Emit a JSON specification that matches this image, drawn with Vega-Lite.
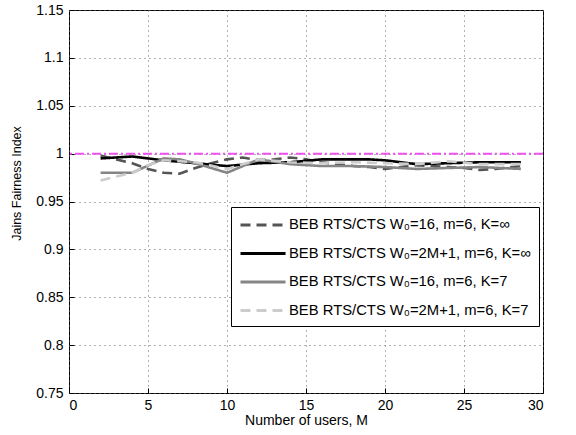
{
  "$schema": "https://vega.github.io/schema/vega-lite/v6.json",
  "width": 474,
  "height": 383,
  "autosize": {"type": "none"},
  "padding": {"left": 69, "top": 10, "right": 33, "bottom": 42},
  "background": "white",
  "config": {
    "font": "Liberation Sans",
    "view": {"stroke": "black", "strokeWidth": 1},
    "axis": {
      "labelFont": "Liberation Sans",
      "titleFont": "Liberation Sans",
      "labelColor": "black",
      "titleColor": "black",
      "labelFontSize": 14,
      "titleFontSize": 14,
      "titleFontWeight": "normal",
      "tickColor": "black",
      "domainColor": "black",
      "gridColor": "#666666",
      "gridDash": [1, 4],
      "gridWidth": 1
    }
  },
  "datasets": {
    "lines": [
      {"series": "A", "M": 2, "J": 0.998},
      {"series": "A", "M": 3, "J": 0.994},
      {"series": "A", "M": 4, "J": 0.990},
      {"series": "A", "M": 5, "J": 0.984},
      {"series": "A", "M": 6, "J": 0.980},
      {"series": "A", "M": 7, "J": 0.979},
      {"series": "A", "M": 8, "J": 0.985},
      {"series": "A", "M": 9, "J": 0.990},
      {"series": "A", "M": 10, "J": 0.994},
      {"series": "A", "M": 11, "J": 0.996},
      {"series": "A", "M": 12, "J": 0.993},
      {"series": "A", "M": 13, "J": 0.994},
      {"series": "A", "M": 14, "J": 0.996},
      {"series": "A", "M": 15, "J": 0.994},
      {"series": "A", "M": 16, "J": 0.991},
      {"series": "A", "M": 17, "J": 0.989},
      {"series": "A", "M": 18, "J": 0.987},
      {"series": "A", "M": 19, "J": 0.986},
      {"series": "A", "M": 20, "J": 0.984},
      {"series": "A", "M": 21, "J": 0.986},
      {"series": "A", "M": 22, "J": 0.988},
      {"series": "A", "M": 23, "J": 0.987},
      {"series": "A", "M": 24, "J": 0.986},
      {"series": "A", "M": 25, "J": 0.985},
      {"series": "A", "M": 26, "J": 0.983},
      {"series": "A", "M": 27, "J": 0.984},
      {"series": "A", "M": 28.6, "J": 0.987},
      {"series": "B", "M": 2, "J": 0.995},
      {"series": "B", "M": 4, "J": 0.997},
      {"series": "B", "M": 6, "J": 0.993},
      {"series": "B", "M": 8, "J": 0.990},
      {"series": "B", "M": 10, "J": 0.987},
      {"series": "B", "M": 12, "J": 0.990},
      {"series": "B", "M": 14, "J": 0.991},
      {"series": "B", "M": 16, "J": 0.994},
      {"series": "B", "M": 18, "J": 0.994},
      {"series": "B", "M": 19, "J": 0.994},
      {"series": "B", "M": 20, "J": 0.993},
      {"series": "B", "M": 22, "J": 0.989},
      {"series": "B", "M": 24, "J": 0.990},
      {"series": "B", "M": 26, "J": 0.991},
      {"series": "B", "M": 28.6, "J": 0.991},
      {"series": "C", "M": 2, "J": 0.980},
      {"series": "C", "M": 4, "J": 0.980},
      {"series": "C", "M": 6, "J": 0.995},
      {"series": "C", "M": 7, "J": 0.994},
      {"series": "C", "M": 8, "J": 0.990},
      {"series": "C", "M": 10, "J": 0.980},
      {"series": "C", "M": 12, "J": 0.994},
      {"series": "C", "M": 14, "J": 0.989},
      {"series": "C", "M": 16, "J": 0.987},
      {"series": "C", "M": 18, "J": 0.987},
      {"series": "C", "M": 20, "J": 0.986},
      {"series": "C", "M": 22, "J": 0.984},
      {"series": "C", "M": 24, "J": 0.985},
      {"series": "C", "M": 26, "J": 0.986},
      {"series": "C", "M": 28.6, "J": 0.984},
      {"series": "D", "M": 2, "J": 0.972},
      {"series": "D", "M": 3, "J": 0.976},
      {"series": "D", "M": 4, "J": 0.980},
      {"series": "D", "M": 5, "J": 0.988},
      {"series": "D", "M": 6, "J": 0.993},
      {"series": "D", "M": 8, "J": 0.991},
      {"series": "D", "M": 10, "J": 0.984},
      {"series": "D", "M": 12, "J": 0.994},
      {"series": "D", "M": 14, "J": 0.991},
      {"series": "D", "M": 16, "J": 0.990},
      {"series": "D", "M": 18, "J": 0.991},
      {"series": "D", "M": 20, "J": 0.990},
      {"series": "D", "M": 22, "J": 0.989},
      {"series": "D", "M": 24, "J": 0.992},
      {"series": "D", "M": 26, "J": 0.989},
      {"series": "D", "M": 28.6, "J": 0.989}
    ],
    "ref": [{"y": 1}]
  },
  "layer": [
    {
      "data": {"name": "lines"},
      "mark": {"type": "line", "strokeWidth": 2.6},
      "encoding": {
        "x": {"field": "M", "type": "quantitative", "scale": {"domain": [0, 30], "nice": false},
              "axis": {"values": [0, 5, 10, 15, 20, 25, 30], "grid": true, "domain": false, "tickSize": -5, "labelPadding": 10, "title": "Number of users, M", "titlePadding": 1}},
        "y": {"field": "J", "type": "quantitative", "scale": {"domain": [0.75, 1.15], "nice": false, "zero": false},
              "axis": {"values": [0.75, 0.8, 0.85, 0.9, 0.95, 1, 1.05, 1.1, 1.15], "format": "~g", "grid": true, "domain": false, "tickSize": -5, "labelPadding": 11, "title": "Jains Fairness Index", "titleFontSize": 12.5, "titleY": 173, "titlePadding": 12}},
        "color": {"field": "series", "type": "nominal",
          "scale": {"domain": ["A", "B", "C", "D"], "range": ["#555555", "#000000", "#858585", "#cccccc"]},
          "legend": {"title": null, "orient": "none", "legendX": 162, "legendY": 197, "symbolType": "M-1,0H4.3", "symbolSize": 289, "symbolStrokeWidth": 3,
            "labelFontSize": 14.8, "labelColor": "black", "labelLimit": 400, "strokeColor": "black", "fillColor": "white", "padding": 8, "rowPadding": 11.5, "labelOffset": 30,
            "labelExpr": "datum.value == 'A' ? 'BEB RTS/CTS W₀=16, m=6, K=∞' : datum.value == 'B' ? 'BEB RTS/CTS W₀=2M+1, m=6, K=∞' : datum.value == 'C' ? 'BEB RTS/CTS W₀=16, m=6, K=7' : 'BEB RTS/CTS W₀=2M+1, m=6, K=7'"}},
        "strokeDash": {"field": "series", "type": "nominal",
          "scale": {"domain": ["A", "B", "C", "D"], "range": [[10, 6], [1, 0], [1, 0], [10, 6]]},
          "legend": {"title": null, "orient": "none", "legendX": 162, "legendY": 197, "symbolType": "M-1,0H4.3", "symbolSize": 289, "symbolStrokeWidth": 3,
            "labelFontSize": 14.8, "labelColor": "black", "labelLimit": 400, "strokeColor": "black", "fillColor": "white", "padding": 8, "rowPadding": 11.5, "labelOffset": 30,
            "labelExpr": "datum.value == 'A' ? 'BEB RTS/CTS W₀=16, m=6, K=∞' : datum.value == 'B' ? 'BEB RTS/CTS W₀=2M+1, m=6, K=∞' : datum.value == 'C' ? 'BEB RTS/CTS W₀=16, m=6, K=7' : 'BEB RTS/CTS W₀=2M+1, m=6, K=7'"}}
      }
    },
    {
      "data": {"name": "ref"},
      "mark": {"type": "rule", "color": "#f050f0", "strokeDash": [9, 3, 2, 3], "strokeWidth": 2},
      "encoding": {"y": {"field": "y", "type": "quantitative"}}
    }
  ]
}
